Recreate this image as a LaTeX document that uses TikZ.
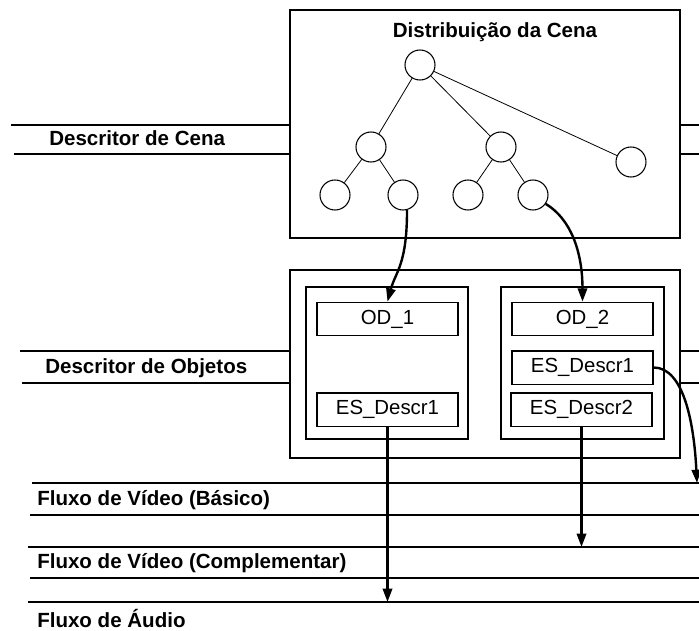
\documentclass[tikz,border=0pt]{standalone}
\usepackage{fontspec}
\setmainfont{Liberation Sans}
\usepackage{tikz}
\usetikzlibrary{positioning,arrows.meta}

\begin{document}
\begin{tikzpicture}[
    x=0.75pt, y=-0.75pt,
    frame/.style={rectangle, draw, line width=1pt, inner sep=0pt},
    field/.style={
        rectangle, draw, line width=1pt, inner sep=0pt,
        minimum width=105.75pt, minimum height=25pt, font=\fontsize{15.3}{18}\selectfont
    },
    obj/.style={circle, draw, line width=0.8pt, minimum size=22.5pt, inner sep=0pt},
    tag/.style={anchor=base west, inner sep=0pt, font=\fontsize{15.4}{18}\selectfont\bfseries},
    rule/.style={draw, line width=0.8pt},
    edge/.style={draw, line width=0.6pt},
    line/.style={draw, line width=1.8pt, -{Triangle[length=10pt,width=7pt]}}
]
    \useasboundingbox (0,0) rectangle (699,631);
    \coordinate (right) at (699,0);

    \node [frame, minimum width=292.5pt, minimum height=171pt] (scene) at (485,124) {};
    \node [tag, anchor=base] (title) at (495,38) {Distribuição da Cena};
    \node [obj] (root) at (420,65) {};
    \node [obj] (n1) at (371,147) {};
    \node [obj] (n2) at (501,147) {};
    \node [obj] (n3) at (631,162) {};
    \node [obj] (n11) at (335,195) {};
    \node [obj] (n12) at (403,195) {};
    \node [obj] (n21) at (468,195) {};
    \node [obj] (n22) at (533,195) {};
    \path [edge] (root) -- (n1);
    \path [edge] (root) -- (n2);
    \path [edge] (root) -- (n3);
    \path [edge] (n1) -- (n11);
    \path [edge] (n1) -- (n12);
    \path [edge] (n2) -- (n21);
    \path [edge] (n2) -- (n22);

    \node [frame, minimum width=292.5pt, minimum height=141pt] (objects) at (485,364) {};
    \node [frame, minimum width=121.5pt, minimum height=114pt] (od1box) at (387,363) {};
    \node [frame, minimum width=122.25pt, minimum height=114pt] (od2box) at (582.5,363) {};
    \node [field] (od1) at (387.5,319) {OD\_1};
    \node [field] (es1) at (387.5,409.5) {ES\_Descr1};
    \node [field] (od2) at (582.5,319) {OD\_2};
    \node [field] (es21) at (582.5,367.5) {ES\_Descr1};
    \node [field] (es22) at (581.5,409.5) {ES\_Descr2};

    \coordinate (cenaA) at (11,125);
    \coordinate (cenaB) at (14,154);
    \coordinate (objA) at (20,351);
    \coordinate (objB) at (22,383);
    \coordinate (basA) at (32,483);
    \coordinate (basB) at (30,515);
    \coordinate (comA) at (28,547);
    \coordinate (comB) at (30,578);
    \coordinate (audA) at (28,602);
    \coordinate (tipB) at (697,483);

    \path [rule] (cenaA) -- (cenaA -| scene.west);
    \path [rule] (cenaB) -- (cenaB -| scene.west);
    \path [rule] (scene.east |- cenaA) -- (right |- cenaA);
    \path [rule] (scene.east |- cenaB) -- (right |- cenaB);
    \path [rule] (objA) -- (objA -| objects.west);
    \path [rule] (objB) -- (objB -| objects.west);
    \path [rule] (objects.east |- objA) -- (right |- objA);
    \path [rule] (objects.east |- objB) -- (right |- objB);
    \foreach \c in {basA,basB,comA,comB,audA}
        \path [rule] (\c) -- (right |- \c);

    \node [tag] (cena) at (49,146) {Descritor de Cena};
    \node [tag] (objetos) at (45,373) {Descritor de Objetos};
    \node [tag] (basico) at (37,505) {Fluxo de Vídeo (Básico)};
    \node [tag] (compl) at (37,568) {Fluxo de Vídeo (Complementar)};
    \node [tag] (audio) at (37,627) {Fluxo de Áudio};

    \path [line] (n12.-75) .. controls +(0,55) and +(8,-30) .. (od1.north);
    \path [line] (n22.-35) .. controls +(25,15) and +(0,-50) .. (od2.north);
    \path [line] (es21.east) .. controls +(30,0) and +(-3,-60) .. (tipB);
    \path [line] (es1.south) -- (es1.south |- audA);
    \path [line] (es22.south) -- (es22.south |- comA);
\end{tikzpicture}
\end{document}
